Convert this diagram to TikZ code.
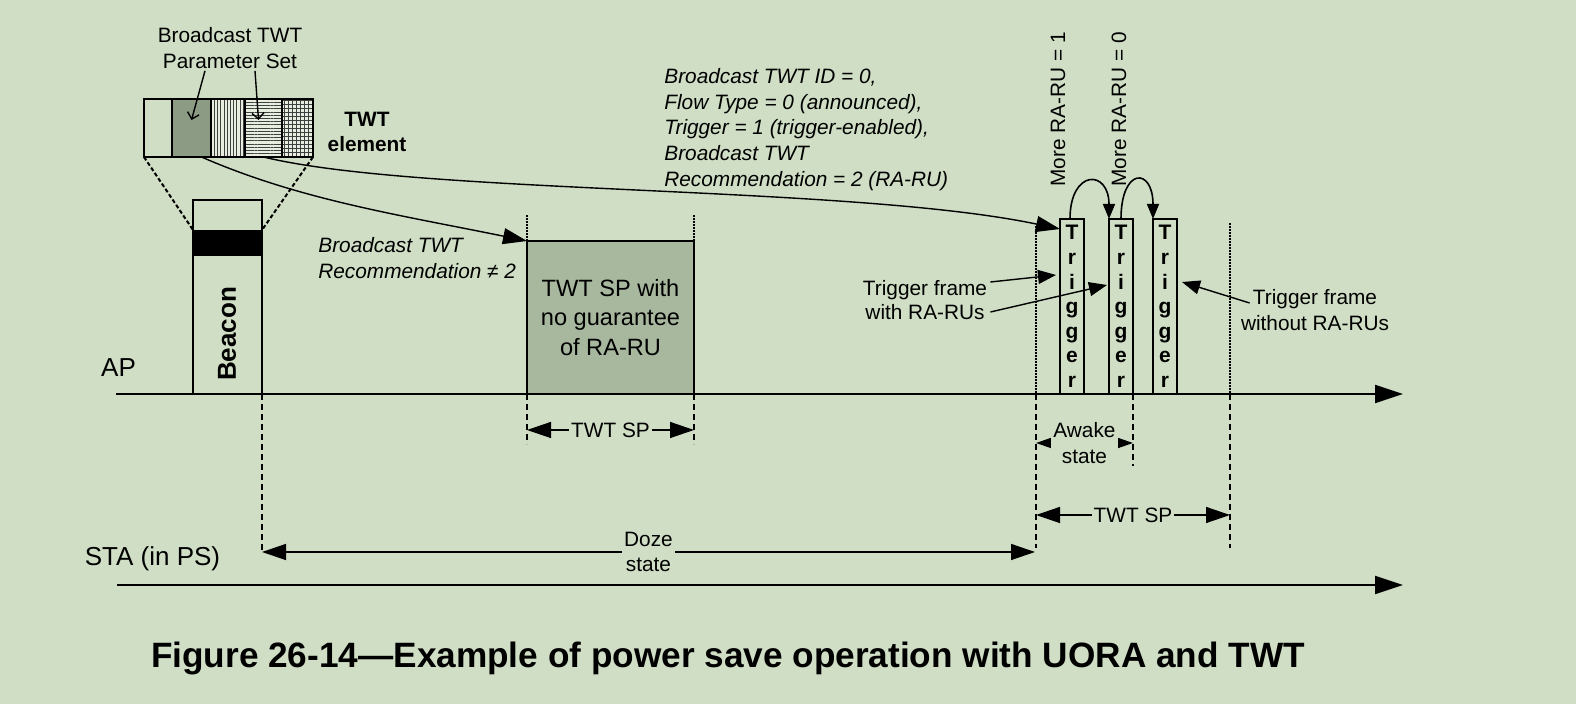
\documentclass[tikz,border=0pt]{standalone}
\usepackage{fontspec}
\setmainfont{Liberation Sans}
\usetikzlibrary{positioning,arrows.meta,calc,patterns.meta}
\definecolor{bgGreen}{HTML}{CFDEC4}
\definecolor{fieldDark}{HTML}{8C9B84}
\definecolor{fieldLight}{HTML}{E6EEDF}
\definecolor{spGray}{HTML}{A8B89E}
\newcommand{\lbltext}{\fontsize{10.4}{12.8}\selectfont}

\begin{document}
\begin{tikzpicture}[x=0.5pt,y=-0.5pt,font=\lbltext,
    field/.style={draw,line width=0.8pt,minimum height=29pt,inner sep=0pt,outer sep=0pt},
    trig/.style={draw,line width=0.8pt,fill=bgGreen,minimum width=12pt,minimum height=87.5pt,inner sep=0pt,outer sep=0pt,align=center,font=\fontsize{10.5}{12.3}\selectfont\bfseries},
    axis/.style={line width=1.1pt,-{Triangle[length=14pt,width=9pt]}},
    arr/.style={line width=0.7pt,-{Triangle[length=12pt,width=8pt]}},
    arrsm/.style={line width=0.7pt,-{Triangle[length=9pt,width=7pt]}},
    arcarr/.style={line width=0.8pt,-{Triangle[length=7.5pt,width=6pt]}},
    barb/.style={line width=0.7pt,-{Straight Barb[length=3pt,width=6pt]}},
    dimarr/.style={line width=0.7pt,{Triangle[length=12pt,width=8pt]}-{Triangle[length=12pt,width=8pt]}},
    dimsm/.style={line width=0.7pt,{Triangle[length=7.5pt,width=5pt]}-{Triangle[length=7.5pt,width=5pt]}},
    dashln/.style={line width=0.8pt,dash pattern=on 3pt off 2pt},
    dotln/.style={line width=0.8pt,dash pattern=on 0.8pt off 0.7pt},
    gap/.style={fill=bgGreen,inner sep=1pt,align=center}]
    \fill[bgGreen] (0,0) rectangle (1576,704);

    % TWT element fields
    \node[field,minimum width=14pt] (f1) at (158,128) {};
    \node[field,minimum width=19.5pt,fill=fieldDark,right=0pt of f1] (f2) {};
    \node[field,minimum width=17pt,right=0pt of f2,preaction={fill=fieldLight},
      pattern={Lines[angle=90,distance=1.6pt,line width=0.4pt]},pattern color=black!75] (f3) {};
    \node[field,minimum width=18.5pt,right=0pt of f3,preaction={fill=fieldLight},
      pattern={Lines[angle=0,distance=1.6pt,line width=0.4pt]},pattern color=black!75] (f4) {};
    \node[field,minimum width=15.5pt,right=0pt of f4,preaction={fill=fieldLight},
      pattern={Hatch[distance=2pt,line width=0.35pt]},pattern color=black!75] (f5) {};
    \draw[line width=0.8pt] (f1.north west) rectangle (f5.south east);

    \node[align=center,inner sep=1pt] (pset) at (230,48) {Broadcast TWT\\Parameter Set};
    \draw[barb] ([xshift=-12.5pt]pset.south) -- ([yshift=4pt]f2.center);
    \draw[barb] ([xshift=12.5pt]pset.south) -- ([shift={(-2.5pt,4pt)}]f4.center);
    \node[align=center,font=\fontsize{10.4}{12.5}\selectfont\bfseries] (elem) at (367,132) {TWT\\element};

    % beacon
    \node[draw,line width=0.8pt,fill=bgGreen,minimum width=34.5pt,minimum height=97pt,inner sep=0pt,outer sep=0pt] (beacon) at (227.5,297) {};
    \fill ([yshift=-15pt]beacon.north west) rectangle ([yshift=-28pt]beacon.north east);
    \node[rotate=90,font=\fontsize{13}{15}\selectfont\bfseries] (beacontxt) at (227,334) {Beacon};
    \draw[line width=1pt,dash pattern=on 2pt off 1.2pt] (f1.south west) -- ([yshift=-15pt]beacon.north west);
    \draw[line width=1pt,dash pattern=on 2pt off 1.2pt] (f5.south east) -- ([yshift=-15pt]beacon.north east);

    % TWT SP without RA-RU
    \node[draw,line width=0.8pt,fill=spGray,minimum width=83.5pt,minimum height=76.5pt,inner sep=0pt,outer sep=0pt,
      align=center,font=\fontsize{11.8}{14.75}\selectfont] (twtsp) at (610.5,317.5) {TWT SP with\\no guarantee\\of RA-RU};
    \draw[dotln] (twtsp.north west) -- ++(0,-26);
    \draw[dotln] (twtsp.north east) -- ++(0,-26);
    \draw[dashln] (twtsp.south west) -- ++(0,50);
    \draw[dashln] (twtsp.south east) -- ++(0,50);
    \draw[dimarr] ([yshift=-18pt]twtsp.south west) -- ([yshift=-18pt]twtsp.south east) node[midway,gap] {TWT SP};

    \node[anchor=north west,align=left,inner sep=0pt,font=\lbltext\itshape] (rec) at (318,237)
      {Broadcast TWT\\Recommendation ≠ 2};
    \draw[arr] ([xshift=5pt]f2.south) .. controls (300,200) and (400,215) .. (twtsp.north west);

    % trigger frames
    \node[trig] (t1) at (1072,306.5) {T\\r\\i\\g\\g\\e\\r};
    \node[trig,right=12.5pt of t1] (t2) {T\\r\\i\\g\\g\\e\\r};
    \node[trig,right=10pt of t2] (t3) {T\\r\\i\\g\\g\\e\\r};
    \node[rotate=90,anchor=west,inner sep=0pt] (more1) at (1058,187) {More RA-RU = 1};
    \node[rotate=90,anchor=west,inner sep=0pt] (more0) at (1119,187) {More RA-RU = 0};
    \draw[arcarr] ([xshift=-1pt]t1.north) .. controls +(0,-50) and +(0,-50) .. (t2.north west);
    \draw[arcarr] (t2.north) .. controls +(0,-52) and +(0,-52) .. (t3.north west);

    \node[anchor=north west,align=left,inner sep=0pt,font=\fontsize{10.4}{12.85}\selectfont\itshape] (params) at (664,68)
      {Broadcast TWT ID = 0,\\Flow Type = 0 (announced),\\Trigger = 1 (trigger-enabled),\\Broadcast TWT\\Recommendation = 2 (RA-RU)};
    \draw[arr] (f4.south) .. controls (420,195) and (850,185) .. ([yshift=-5pt]t1.north west);

    \node[align=center,inner sep=1.5pt,font=\fontsize{10.4}{12.2}\selectfont] (withru) at (925,300) {Trigger frame\\with RA-RUs};
    \draw[arrsm] ([yshift=9pt]withru.east) -- ([shift={(-2pt,15.75pt)}]t1.west);
    \draw[arrsm] ([yshift=-6pt]withru.east) -- ([shift={(-1pt,10.75pt)}]t2.west);
    \node[align=center,inner sep=1.5pt,font=\fontsize{10.4}{13}\selectfont] (woru) at (1315,310) {Trigger frame\\without RA-RUs};
    \draw[arrsm] ([shift={(6pt,3.5pt)}]woru.west) -- ([shift={(2.5pt,12.25pt)}]t3.east);

    % service period marks
    \coordinate (spAtop) at (1036,226);
    \coordinate (spA) at (1036,394);
    \coordinate (spAbot) at (1036,548);
    \coordinate (spBtop) at (1230,223);
    \coordinate (spB) at (1230,394);
    \coordinate (spBbot) at (1230,548);
    \draw[dotln] (spAtop) -- (spA);
    \draw[dotln] (spBtop) -- (spB);
    \draw[dashln] (spA) -- (spAbot);
    \draw[dashln] (spB) -- (spBbot);
    \draw[dashln] (t2.south east) -- ++(0,72);
    \coordinate (awL) at (1036,443);
    \coordinate (awR) at (1133,443);
    \draw[dimsm] (awL) -- (awR) node[midway,gap] {Awake\\state};
    \coordinate (spL) at (1036,515);
    \coordinate (spR) at (1230,515);
    \draw[dimarr] (spL) -- (spR) node[midway,gap] {TWT SP};

    % doze
    \coordinate (dozeL) at (262,552);
    \coordinate (dozeR) at (1035,552);
    \draw[dashln] (beacon.south east) -- (dozeL);
    \draw[dimarr] (dozeL) -- (dozeR) node[midway,gap] {Doze\\state};

    % time axes
    \coordinate (apL) at (116,394);
    \coordinate (apR) at (1403,394);
    \coordinate (staL) at (117,585);
    \coordinate (staR) at (1403,585);
    \draw[axis] (apL) -- (apR);
    \draw[axis] (staL) -- (staR);
    \node[font=\fontsize{13}{15}\selectfont] (aplbl) at (118.5,368) {AP};
    \node[font=\fontsize{13}{15}\selectfont] (stalbl) at (152.5,559) {STA (in PS)};

    \node[font=\fontsize{17.6}{20}\selectfont\bfseries] (caption) at (728,658)
      {Figure 26-14—Example of power save operation with UORA and TWT};
\end{tikzpicture}
\end{document}
